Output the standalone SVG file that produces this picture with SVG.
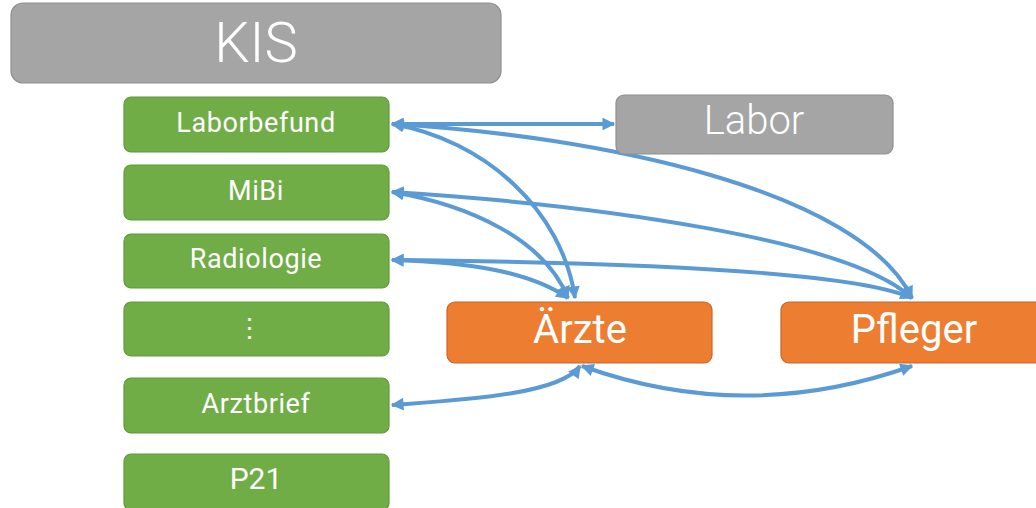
<svg xmlns="http://www.w3.org/2000/svg" width="1036" height="508" viewBox="0 0 1036 508">
<style>
.grey{fill:#a5a5a5;stroke:#8f8f8f;stroke-width:1.2}
.green{fill:#70ad47;stroke:#5f9a3a;stroke-width:1.2}
.orange{fill:#ed7d31;stroke:#c8652a;stroke-width:1.2}
text{font-family:Roboto,"Liberation Sans",sans-serif;fill:#fff;text-anchor:middle}
.big{font-weight:300}
.sm{font-size:27px;letter-spacing:0.6px}
.c{fill:none;stroke:#5b9bd5;stroke-width:4;marker-start:url(#ah);marker-end:url(#ah)}
</style>
<defs>
<marker id="ah" viewBox="0 0 10 10" refX="9" refY="5" markerWidth="3.6" markerHeight="3.2" markerUnits="strokeWidth" orient="auto-start-reverse">
<path d="M0,0 L10,5 L0,10 z" fill="#5b9bd5"/>
</marker>
</defs>
<rect width="1036" height="508" fill="#fff"/>
<g id="connectors">
<path class="c" d="M392,124 L614,124"/>
<path class="c" d="M392,124 C485,140 562,210 575,298"/>
<path class="c" d="M392,124 C600,136 860,190 912,298"/>
<path class="c" d="M392,192 C470,205 545,240 568,298"/>
<path class="c" d="M392,192 C600,205 850,240 912,298"/>
<path class="c" d="M392,260 C470,262 530,272 568,298"/>
<path class="c" d="M392,260 C600,262 850,270 912,298"/>
<path class="c" d="M580,366 C560,395 460,400 392,405"/>
<path class="c" d="M582,366 Q745,425 912,366"/>
</g>
<g id="kis"><rect class="grey" x="11" y="3" width="490" height="80" rx="12"/><text class="big" x="256" y="62" font-size="56">KIS</text></g>
<g id="laborbefund"><rect class="green" x="124" y="97" width="265" height="55" rx="7"/><text class="sm" x="256" y="132">Laborbefund</text></g>
<g id="mibi"><rect class="green" x="124" y="165" width="265" height="55" rx="7"/><text class="sm" x="256" y="200">MiBi</text></g>
<g id="radiologie"><rect class="green" x="124" y="234" width="265" height="54" rx="7"/><text class="sm" x="256" y="268">Radiologie</text></g>
<g id="dots"><rect class="green" x="124" y="302" width="265" height="54" rx="7"/><text class="sm" x="250" y="337">⋮</text></g>
<g id="arztbrief"><rect class="green" x="124" y="378" width="265" height="55" rx="7"/><text class="sm" x="256" y="413">Arztbrief</text></g>
<g id="p21"><rect class="green" x="124" y="454" width="265" height="56" rx="7"/><text x="256" y="489" font-size="30">P21</text></g>
<g id="labor"><rect class="grey" x="616" y="95" width="277" height="59" rx="8"/><text class="big" x="754" y="134" font-size="40">Labor</text></g>
<g id="aerzte"><rect class="orange" x="447" y="302" width="265" height="61" rx="8"/><text x="580" y="343" font-size="40">Ärzte</text></g>
<g id="pfleger"><rect class="orange" x="781" y="302" width="270" height="61" rx="8"/><text x="914" y="343" font-size="40">Pfleger</text></g>
</svg>
